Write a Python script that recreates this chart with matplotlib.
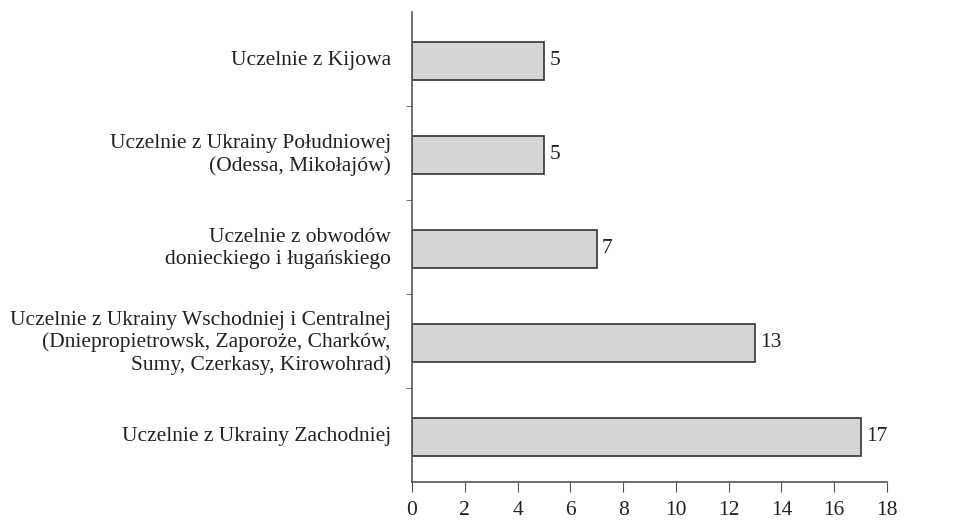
import matplotlib.pyplot as plt
import numpy as np

categories = [
    "Uczelnie z Kijowa",
    "Uczelnie z Ukrainy Południowej\n(Odessa, Mikołajów)",
    "Uczelnie z obwodów\ndonieckiego i ługańskiego",
    "Uczelnie z Ukrainy Wschodniej i Centralnej\n(Dniepropietrowsk, Zaporoże, Charków,\nSumy, Czerkasy, Kirowohrad)",
    "Uczelnie z Ukrainy Zachodniej",
]
values = [5, 5, 7, 13, 17]
xticks = [0, 2, 4, 6, 8, 10, 12, 14, 16, 18]

plt.rcParams['font.family'] = ['Liberation Serif', 'DejaVu Serif']
fs = 15.5
tc = '#222222'

fig = plt.figure(figsize=(9.77, 5.25), dpi=100)
ax = fig.add_axes([0.4217, 0.0819, 0.4862, 0.8952])

y = np.arange(len(categories))
ax.barh(y + 0.02, values, height=0.41, color='#d5d5d7', edgecolor='#333333', linewidth=1.2)
ax.set_ylim(len(categories) - 0.5, -0.5)
ax.set_xlim(0, 18)

for yi, v in zip(y, values):
    ax.text(v + 0.2, yi + 0.02, str(v), va='center', ha='left', fontsize=fs, color=tc)

for yi, lab in zip(y, categories):
    ax.text(-0.8, yi + 0.02, lab, va='center', ha='right', fontsize=fs, linespacing=1.2, color=tc)

ax.set_yticks([])
ax.set_yticks(np.arange(0.5, len(categories) - 0.5, 1), minor=True)
ax.tick_params(axis='y', which='minor', direction='out', length=4, color='#555555')
ax.set_xticks(xticks)
ax.set_xticklabels([str(t) for t in xticks], fontsize=fs, color=tc)
ax.tick_params(axis='x', direction='out', length=7, color='#555555', pad=7)

for s in ['top', 'right']:
    ax.spines[s].set_visible(False)
for s in ['left', 'bottom']:
    ax.spines[s].set_color('#555555')
    ax.spines[s].set_linewidth(1.2)

fig.savefig('out.png', dpi=100)
